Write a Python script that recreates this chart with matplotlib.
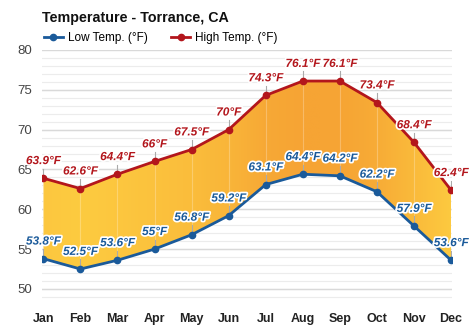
import numpy as np
import matplotlib.pyplot as plt
import matplotlib.patheffects as pe
from matplotlib.colors import LinearSegmentedColormap
from matplotlib.patches import Polygon

plt.rcParams['font.family'] = ['Liberation Sans', 'DejaVu Sans']

months = ["Jan", "Feb", "Mar", "Apr", "May", "Jun", "Jul", "Aug", "Sep", "Oct", "Nov", "Dec"]
low_temp = [53.8, 52.5, 53.6, 55.0, 56.8, 59.2, 63.1, 64.4, 64.2, 62.2, 57.9, 53.6]
high_temp = [63.9, 62.6, 64.4, 66.0, 67.5, 70.0, 74.3, 76.1, 76.1, 73.4, 68.4, 62.4]

low_color = "#1a5a9a"
high_color = "#b3161c"

fig = plt.figure(figsize=(4.74, 3.31), dpi=100)
ax = fig.add_axes([0.089, 0.079, 0.865, 0.77])
x = np.arange(len(months))

ax.set_xlim(-0.03, 11.03)
ax.set_ylim(48, 80)

# grid: major every 5, minor every 1
for v in np.arange(49, 80, 1):
    ax.axhline(v, color="#ececec", lw=0.8, zorder=0)
for v in np.arange(50, 81, 5):
    ax.axhline(v, color="#d9d9d9", lw=1.0, zorder=0)

# gradient fill between low and high, warmer in summer
cmap = LinearSegmentedColormap.from_list("warm", ["#fdcb40", "#f6a434"])
mean_t = (np.array(low_temp) + np.array(high_temp)) / 2
xs = np.linspace(0, 11, 400)
shade = np.interp(xs, x, mean_t)
shade = (shade - shade.min()) / (shade.max() - shade.min())
img = ax.imshow(shade[np.newaxis, :], cmap=cmap, aspect="auto",
                extent=[0, 11, 48, 80], origin="lower", zorder=1)
verts = list(zip(x, high_temp)) + list(zip(x[::-1], low_temp[::-1]))
poly = Polygon(verts, closed=True, facecolor="none", edgecolor="none")
ax.add_patch(poly)
img.set_clip_path(poly)

# faint vertical lines through the band
for i in x:
    ax.plot([i, i], [low_temp[i], high_temp[i]], color="#ffffff", alpha=0.25, lw=0.8, zorder=2)

ax.plot(x, low_temp, color=low_color, lw=2, marker="o", ms=4.5, zorder=4, label="Low Temp. (°F)")
ax.plot(x, high_temp, color=high_color, lw=2, marker="o", ms=4.5, zorder=4, label="High Temp. (°F)")

stroke = [pe.withStroke(linewidth=2.5, foreground="white")]
for vals, col in [(low_temp, low_color), (high_temp, high_color)]:
    for i, v in zip(x, vals):
        ax.plot([i, i], [v, v + 1.2], color="#aaaaaa", lw=0.8, zorder=3)
        ax.annotate("%g°F" % v, (i, v), xytext=(0, 8), textcoords="offset points",
                    ha="center", va="bottom", fontsize=8.5, fontweight="bold", fontstyle="italic",
                    color=col, path_effects=stroke, zorder=5)

ax.set_xticks(x)
ax.set_xticklabels(months, fontweight="bold", fontsize=9, color="#222222")
ax.set_yticks([50, 55, 60, 65, 70, 75, 80])
ax.tick_params(axis="y", labelsize=9.5, colors="#444444", length=0, pad=7)
ax.tick_params(axis="x", length=0, pad=6)
for s in ax.spines.values():
    s.set_visible(False)

fig.text(0.089, 0.935, "Temperature - Torrance, CA", fontsize=10.3, fontweight="bold", color="#111111")
ax.legend(loc="lower left", bbox_to_anchor=(-0.01, 1.0), ncol=2, frameon=False, fontsize=8.5,
          handlelength=1.6, columnspacing=2.0, borderaxespad=0.1, handletextpad=0.4)

fig.savefig("out.png", dpi=100)
